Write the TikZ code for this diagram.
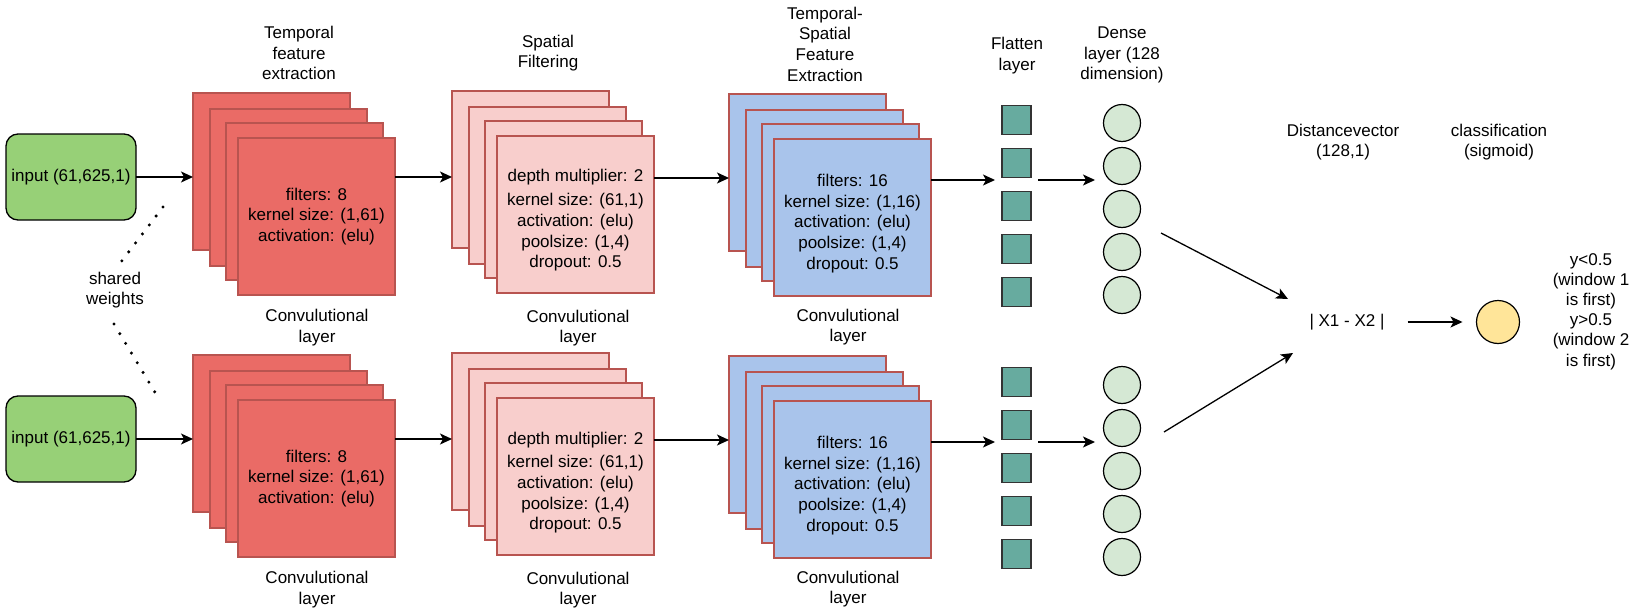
\documentclass[tikz,border=0pt]{standalone}
\usepackage{fontspec}
\setmainfont{Liberation Sans}
\usetikzlibrary{arrows.meta,
                calc,
                positioning}
\definecolor{convred}{HTML}{EA6B66}
\definecolor{convpink}{HTML}{F8CECC}
\definecolor{convblue}{HTML}{A9C4EB}
\definecolor{edgered}{HTML}{B85450}
\definecolor{inputgreen}{HTML}{97D077}
\definecolor{flatgreen}{HTML}{67AB9F}
\definecolor{densegreen}{HTML}{D5E8D4}
\definecolor{outyellow}{HTML}{FFE599}

\begin{document}
\begin{tikzpicture}[
            x = 1pt, y = -1pt,
            font = \fontsize{17}{20.7}\selectfont,
            every node/.style = {inner sep=0pt, outer sep=0pt},
            layer/.style = {draw=edgered, line width=1.2pt, minimum width=157pt,
                    minimum height=157pt, anchor=north west},
            inbox/.style = {draw, line width=1.3pt, rounded corners=12pt, fill=inputgreen,
                    minimum width=130pt, minimum height=86pt},
            flatbox/.style = {draw=black!80, line width=1.3pt, fill=flatgreen, minimum size=29pt},
            densenode/.style = {circle, draw, line width=1.2pt, fill=densegreen, minimum size=37pt},
            outnode/.style = {circle, draw, line width=1.2pt, fill=outyellow, minimum size=43pt},
            caption/.style = {align=center},
            dotline/.style = {line width=3.4pt, line cap=round, dash pattern=on 0pt off 11.3pt},
            arr/.style = {line width=1.3pt, -{Stealth[length=12pt, width=11pt, inset=3pt]}}]

        \useasboundingbox (0,0) rectangle (1630,610);

        % two branches of the network
        \foreach \r/\oy in {1/0, 2/262} {
            \node [inbox] (in\r) at (71,177+\oy) {input (61,625,1)};
            \foreach \n/\dx/\dy in {a/0/0, b/17/16, c/33/30, d/45/45} {
                \node [layer, fill=convred]  (tc\r-\n) at (193+\dx, 93+\oy+\dy) {};
                \node [layer, fill=convpink] (sf\r-\n) at (452+\dx, 91+\oy+\dy) {};
                \node [layer, fill=convblue] (fe\r-\n) at (729+\dx, 94+\oy+\dy) {};
            }
            \node [caption] (tctxt\r) at (tc\r-d.center)
                {filters: 8\\kernel size: (1,61)\\activation: (elu)};
            \node [caption, yshift=-6pt] (sftxt\r) at (sf\r-d.center)
                {depth multiplier: 2\\[3pt]kernel size: (61,1)\\activation: (elu)\\poolsize: (1,4)\\dropout: 0.5};
            \node [caption, yshift=-6pt] (fetxt\r) at (fe\r-d.center)
                {filters: 16\\kernel size: (1,16)\\activation: (elu)\\poolsize: (1,4)\\dropout: 0.5};
            % layer captions
            \node [caption] (tccap\r) at (317,327.5+\oy) {Convulutional\\layer};
            \node [caption] (sfcap\r) at (578,328+\oy) {Convulutional\\layer};
            \node [caption] (fecap\r) at (848,327+\oy) {Convulutional\\layer};
            % flatten and dense
            \foreach \k in {0,...,4} {
                \node [flatbox]   (fl\r-\k) at (1016.5,120+\oy+43*\k) {};
                \node [densenode] (de\r-\k) at (1122,123+\oy+43*\k) {};
            }
            \coordinate (flin\r)  at (995,180+\oy);
            \coordinate (flout\r) at (1038,180+\oy);
            \coordinate (dein\r)  at (1095,180+\oy);
            %%
            \draw [arr] (in\r.east) -- (in\r.east -| tc\r-a.west);
            \draw [arr] (tc\r-d.east |- in\r.east) -- (sf\r-a.west |- in\r.east);
            \draw [arr] ([yshift=-1pt]sf\r-d.east |- in\r.east) -- ([yshift=-1pt]fe\r-a.west |- in\r.east);
            \draw [arr] (fe\r-d.east |- flin\r) -- (flin\r);
            \draw [arr] (flout\r) -- (dein\r);
        }

        % top captions
        \node [caption] (tclabel) at (299,53)   {Temporal\\feature\\extraction};
        \node [caption] (sflabel) at (548,53)   {Spatial\\Filtering};
        \node [caption] (felabel) at (825,44)   {Temporal-\\Spatial\\Feature\\Extraction};
        \node [caption] (fllabel) at (1017,55.5) {Flatten\\layer};
        \node [caption] (delabel) at (1122,55)  {Dense\\layer (128\\dimension)};

        % shared weights
        \node [caption] (shared) at (115,290) {shared\\weights};
        \coordinate (sw1) at (163,207);
        \coordinate (sw2) at (121,262);
        \coordinate (sw3) at (114,324);
        \coordinate (sw4) at (156,394);
        \draw [dotline] (sw1) -- (sw2);
        \draw [dotline] (sw3) -- (sw4);

        % distance and classification
        \node [caption] (dist)    at (1347,322) {| X1 - X2 |};
        \node [caption] (distcap) at (1343,142) {Distancevector\\(128,1)};
        \node [outnode] (sig)     at (1498,322) {};
        \node [caption] (sigcap)  at (1499,142) {classification\\(sigmoid)};
        \node [caption, font=\fontsize{17}{20.2}\selectfont] (result) at (1591,311.5)
            {y<0.5\\(window 1\\is first)\\y>0.5\\(window 2\\is first)};
        \coordinate (da1) at (1161,233);
        \coordinate (db1) at (1288,299);
        \coordinate (da2) at (1164,432);
        \coordinate (db2) at (1293,353);
        \draw [arr] (da1) -- (db1);
        \draw [arr] (da2) -- (db2);
        \draw [arr] ([xshift=23pt]dist.east) -- ([xshift=-14pt]sig.west);
    \end{tikzpicture}
\end{document}
